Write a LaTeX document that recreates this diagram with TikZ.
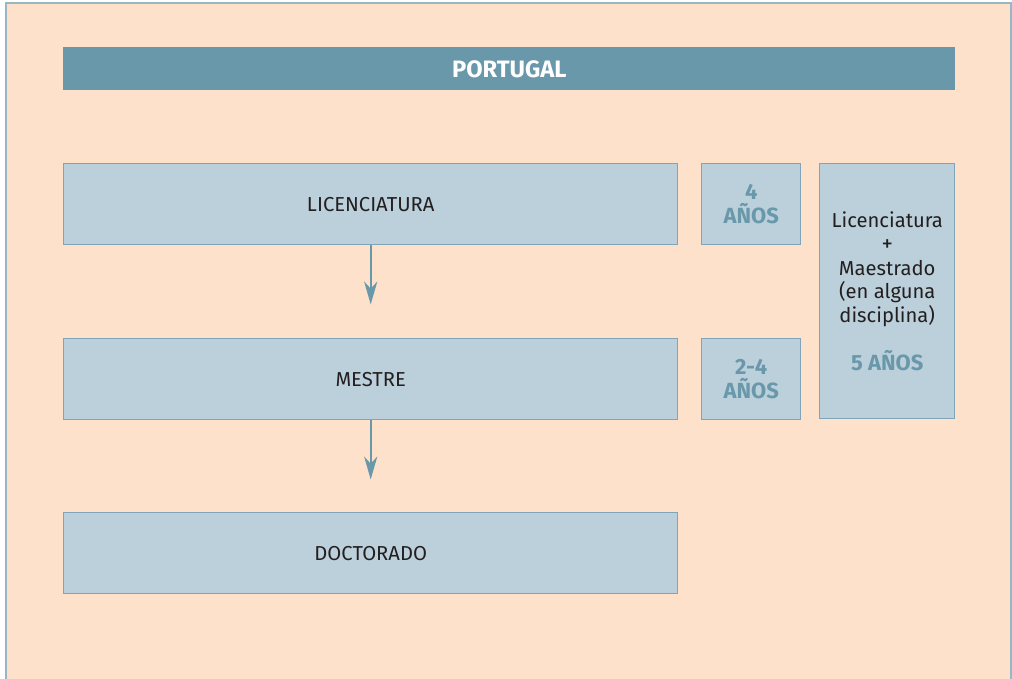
\documentclass[tikz,border=0pt]{standalone}
\usepackage{fontspec}
\setmainfont{Fira Sans}
\usetikzlibrary{arrows.meta,positioning}
\definecolor{bgpeach}{RGB}{253,225,203}
\definecolor{barblue}{RGB}{106,152,171}
\definecolor{boxfill}{RGB}{187,208,219}
\definecolor{boxline}{RGB}{128,164,184}
\definecolor{txtdark}{RGB}{35,31,32}
\tikzset{
  stage/.style={draw=boxline, fill=boxfill, line width=0.8pt, anchor=north west,
    minimum width=12.28cm, minimum height=1.62cm, inner sep=0pt,
    font=\fontsize{11.5}{13}\selectfont, text=txtdark},
  years/.style={draw=boxline, fill=boxfill, line width=0.8pt, anchor=north west,
    minimum width=1.98cm, minimum height=1.62cm, inner sep=0pt, align=center,
    font=\bfseries\fontsize{12.5}{14}\selectfont, text=barblue},
  flow/.style={draw=barblue, line width=1pt, -{Stealth[length=13pt, width=7.5pt, inset=4pt]}}
}
\begin{document}
\begin{tikzpicture}
  \useasboundingbox (0,0) rectangle (20.24,-13.56);
  \fill[white] (0,0) rectangle (20.24,-13.56);
  \draw[fill=bgpeach, draw=boxline!80, line width=0.8pt] (0.12,-0.06) rectangle (20.22,-14);
  % header
  \node[fill=barblue, anchor=north west, minimum width=17.84cm, minimum height=0.86cm,
    inner sep=0pt, text=white, font=\bfseries\fontsize{13.5}{14}\selectfont] (title)
    at (1.26,-0.94) {PORTUGAL};
  % stages
  \node[stage] (lic) at (1.26,-3.26) {LICENCIATURA};
  \node[stage] (mes) at (1.26,-6.76) {MESTRE};
  \node[stage] (doc) at (1.26,-10.24) {DOCTORADO};
  \node[years] (y1) at (14.02,-3.26) {4\\AÑOS};
  \node[years] (y2) at (14.02,-6.76) {2-4\\AÑOS};
  \node[draw=boxline, fill=boxfill, line width=0.8pt, anchor=north west,
    minimum width=2.7cm, minimum height=5.1cm, inner sep=0pt, align=center,
    font=\fontsize{11.5}{13.5}\selectfont, text=txtdark] (both) at (16.38,-3.26)
    {Licenciatura\\{\fontsize{13}{13.5}\selectfont+}\\Maestrado\\(en alguna\\disciplina)\\[12pt]
     {\bfseries\fontsize{12.5}{13}\selectfont\color{barblue}5 AÑOS}};
  % arrows
  \coordinate (a1) at ([yshift=-1.18cm]lic.south);
  \coordinate (a2) at ([yshift=-1.18cm]mes.south);
  \draw[flow] (lic.south) -- (a1);
  \draw[flow] (mes.south) -- (a2);
\end{tikzpicture}
\end{document}
